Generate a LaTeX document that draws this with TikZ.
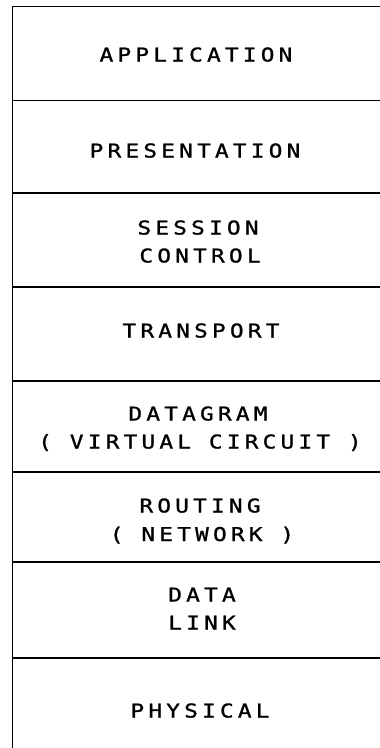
\documentclass[tikz,border=0pt]{standalone}
\usepackage{fontspec}
\newfontfamily\plotfont[LetterSpace=22,FakeStretch=1.2,FakeBold=1.2]{DejaVu Sans Mono}
\tikzset{
  rule/.style={line width=1.5pt, line cap=butt},
  txt/.style={font=\plotfont\fontsize{19}{28}\selectfont,
    inner sep=0pt, text height=14pt, text depth=0pt}
}
\begin{document}
\begin{tikzpicture}[x=1pt,y=-1pt]
\useasboundingbox (0,0) rectangle (380,748);
% left border
\coordinate (lt) at (12.5,6.5);
\coordinate (lb) at (12.5,748);
\draw[rule] (lt) -- (lb);
% horizontal rules
\foreach \n/\y in {r0/6.5,r1/100.5,r2/193,r3/287,r4/381,r5/472,r6/562,r7/658}{
  \coordinate (\n l) at (12,\y);
  \coordinate (\n r) at (380,\y);
  \draw[rule] (\n l) -- (\n r);
}
\node[txt] (app) at (196,54.5) {APPLICATION};
\node[txt] (pres) at (195,150.5) {PRESENTATION};
\node[txt] (sess1) at (198,227.5) {SESSION};
\node[txt] (sess2) at (200,255.5) {CONTROL};
\node[txt] (trans) at (201,330.5) {TRANSPORT};
\node[txt] (dgram1) at (198,413.5) {DATAGRAM};
\node[txt] (dgram2) at (200,441.5) {( VIRTUAL CIRCUIT )};
\node[txt] (rout1) at (200,505.5) {ROUTING};
\node[txt] (rout2) at (202,534) {( NETWORK )};
\node[txt] (dlink1) at (202,594.5) {DATA};
\node[txt] (dlink2) at (202,622.5) {LINK};
\node[txt] (phys) at (200,710.5) {PHYSICAL};
\end{tikzpicture}
\end{document}
